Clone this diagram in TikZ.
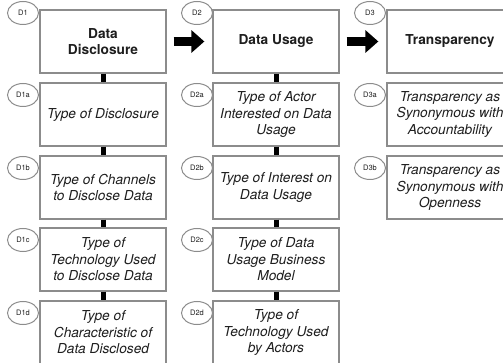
\documentclass[tikz,border=0pt]{standalone}
\usepackage{fontspec}
\setmainfont{TeX Gyre Heros}
\usetikzlibrary{arrows.meta,shapes.geometric}
\definecolor{boxgray}{HTML}{8C8C8C}
\definecolor{inkgray}{HTML}{1E1E1E}

\begin{document}
\begin{tikzpicture}[x=1pt,y=-1pt,
   box/.style={draw=boxgray,line width=1.3pt,fill=white,text=inkgray,minimum width=126pt,minimum height=63pt,inner sep=1pt,align=center,font=\fontsize{13.7}{16.5}\selectfont\itshape},
   head/.style={box,font=\fontsize{13.7}{16.5}\selectfont\bfseries},
   tag/.style={ellipse,draw=boxgray,line width=1pt,fill=white,text=inkgray,minimum width=31pt,minimum height=23pt,inner sep=0pt,font=\fontsize{7.5}{8}\selectfont},
   link/.style={line width=5pt,black},
   flow/.style={line width=9pt,black,-{Triangle[length=13pt,width=22pt]},shorten <=7pt,shorten >=8pt}]
   \useasboundingbox (0,0) rectangle (503,363);

   % main dimensions
   \node[head] (d1) at (103,41.5) {Data\\Disclosure};
   \node[head] (d2) at (276,41.5) {Data Usage};
   \node[head] (d3) at (450,41.5) {Transparency};

   % first column
   \node[box] (d1a) at (103,114.5) {Type of Disclosure};
   \node[box] (d1b) at (103,187.5) {Type of Channels\\to Disclose Data};
   \node[box] (d1c) at (103,259.5) {Type of\\Technology Used\\to Disclose Data};
   \node[box] (d1d) at (103,332.5) {Type of\\Characteristic of\\Data Disclosed};

   % second column
   \node[box] (d2a) at (276,114.5) {Type of Actor\\Interested on Data\\Usage};
   \node[box] (d2b) at (276,187.5) {Type of Interest on\\Data Usage};
   \node[box] (d2c) at (276,259.5) {Type of Data\\Usage Business\\Model};
   \node[box] (d2d) at (276,332.5) {Type of\\Technology Used\\by Actors};

   % third column
   \node[box] (d3a) at (450,114.5) {Transparency as\\Synonymous with\\Accountability};
   \node[box] (d3b) at (450,187.5) {Transparency as\\Synonymous with\\Openness};

   % tags
   \node[tag] (t1) at (23,13) {D1};
   \node[tag] (t2) at (197,13) {D2};
   \node[tag] (t3) at (370,13) {D3};
   \node[tag] (t1a) at (23,95) {D1a};
   \node[tag] (t1b) at (23,168) {D1b};
   \node[tag] (t1c) at (23,240) {D1c};
   \node[tag] (t1d) at (23,313) {D1d};
   \node[tag] (t2a) at (197,95) {D2a};
   \node[tag] (t2b) at (197,168) {D2b};
   \node[tag] (t2c) at (197,240) {D2c};
   \node[tag] (t2d) at (197,313) {D2d};
   \node[tag] (t3a) at (370,95) {D3a};
   \node[tag] (t3b) at (370,168) {D3b};

   \path[flow] (d1.east) edge (d2.west);
   \path[flow] (d2.east) edge (d3.west);

   \path[link] (d1) edge (d1a);
   \path[link] (d1a) edge (d1b);
   \path[link] (d1b) edge (d1c);
   \path[link] (d1c) edge (d1d);
   \path[link] (d2) edge (d2a);
   \path[link] (d2a) edge (d2b);
   \path[link] (d2b) edge (d2c);
   \path[link] (d2c) edge (d2d);
\end{tikzpicture}
\end{document}
